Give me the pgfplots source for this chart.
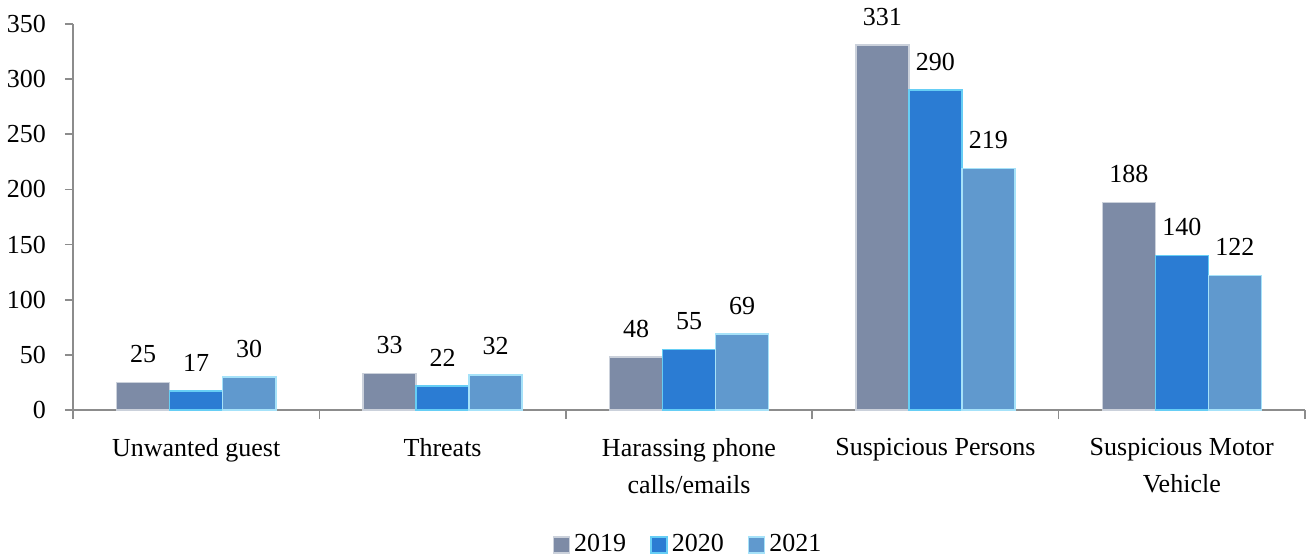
\documentclass[border=0pt]{standalone}
\usepackage{pgfplots}
\pgfplotsset{compat=1.18}
\usepackage{fontspec}
\setmainfont{Liberation Serif}
\definecolor{c19}{HTML}{7D8BA6}
\definecolor{c20}{HTML}{2B7CD3}
\definecolor{c21}{HTML}{6099CE}
\definecolor{axgray}{HTML}{8C8C8C}
\begin{document}
\fontsize{13}{15}\selectfont
\begin{tikzpicture}
\useasboundingbox (-36.5pt,-74.5pt) rectangle (617pt,205pt);
\begin{axis}[
  scale only axis,
  width=616pt, height=193pt,
  ybar=0pt, bar width=26.5pt,
  xmin=-0.5, xmax=4.5,
  ymin=0, ymax=350,
  ytick={0,50,...,350},
  xtick={0,1,2,3,4},
  xticklabels={Unwanted guest,Threats,{Harassing phone\\calls/emails},Suspicious Persons,{Suspicious Motor\\Vehicle}},
  xticklabel style={align=center, font=\fontsize{13}{18.5}\selectfont, yshift=-5.5pt},
  major x tick style={draw=none},
  minor xtick={-0.5,0.5,1.5,2.5,3.5,4.5},
  minor x tick style={draw=axgray, thick},
  minor tick length=4.5pt,
  axis x line*=bottom, axis y line*=left,
  axis line style={draw=axgray, thick},
  y axis line style={-},
  x axis line style={-},
  ytick style={draw=axgray, thick},
  tick align=outside,
  major tick length=4pt,
  yticklabel style={font=\fontsize{13}{15}\selectfont, xshift=-5pt},
  /pgf/number format/assume math mode=true,
  nodes near coords,
  nodes near coords style={font=\fontsize{13}{15}\selectfont, black, yshift=5pt},
  legend style={at={(axis description cs:0.5,-0.35)}, anchor=center, draw=none, legend columns=3, font=\fontsize{13}{15}\selectfont, /tikz/every even column/.append style={column sep=10pt}},
  legend image code/.code={\draw[#1] (0pt,-4pt) rectangle (8pt,4pt);},
  clip=false,
]
\addplot[fill=c19, draw=c19!40!white, line width=0.8pt] coordinates {(0,25) (1,33) (2,48) (3,331) (4,188)};
\addplot[fill=c20, draw=cyan!60!white, line width=0.8pt] coordinates {(0,17) (1,22) (2,55) (3,290) (4,140)};
\addplot[fill=c21, draw=cyan!35!white, line width=0.8pt] coordinates {(0,30) (1,32) (2,69) (3,219) (4,122)};
\legend{2019,2020,2021}
\end{axis}
\end{tikzpicture}
\end{document}
